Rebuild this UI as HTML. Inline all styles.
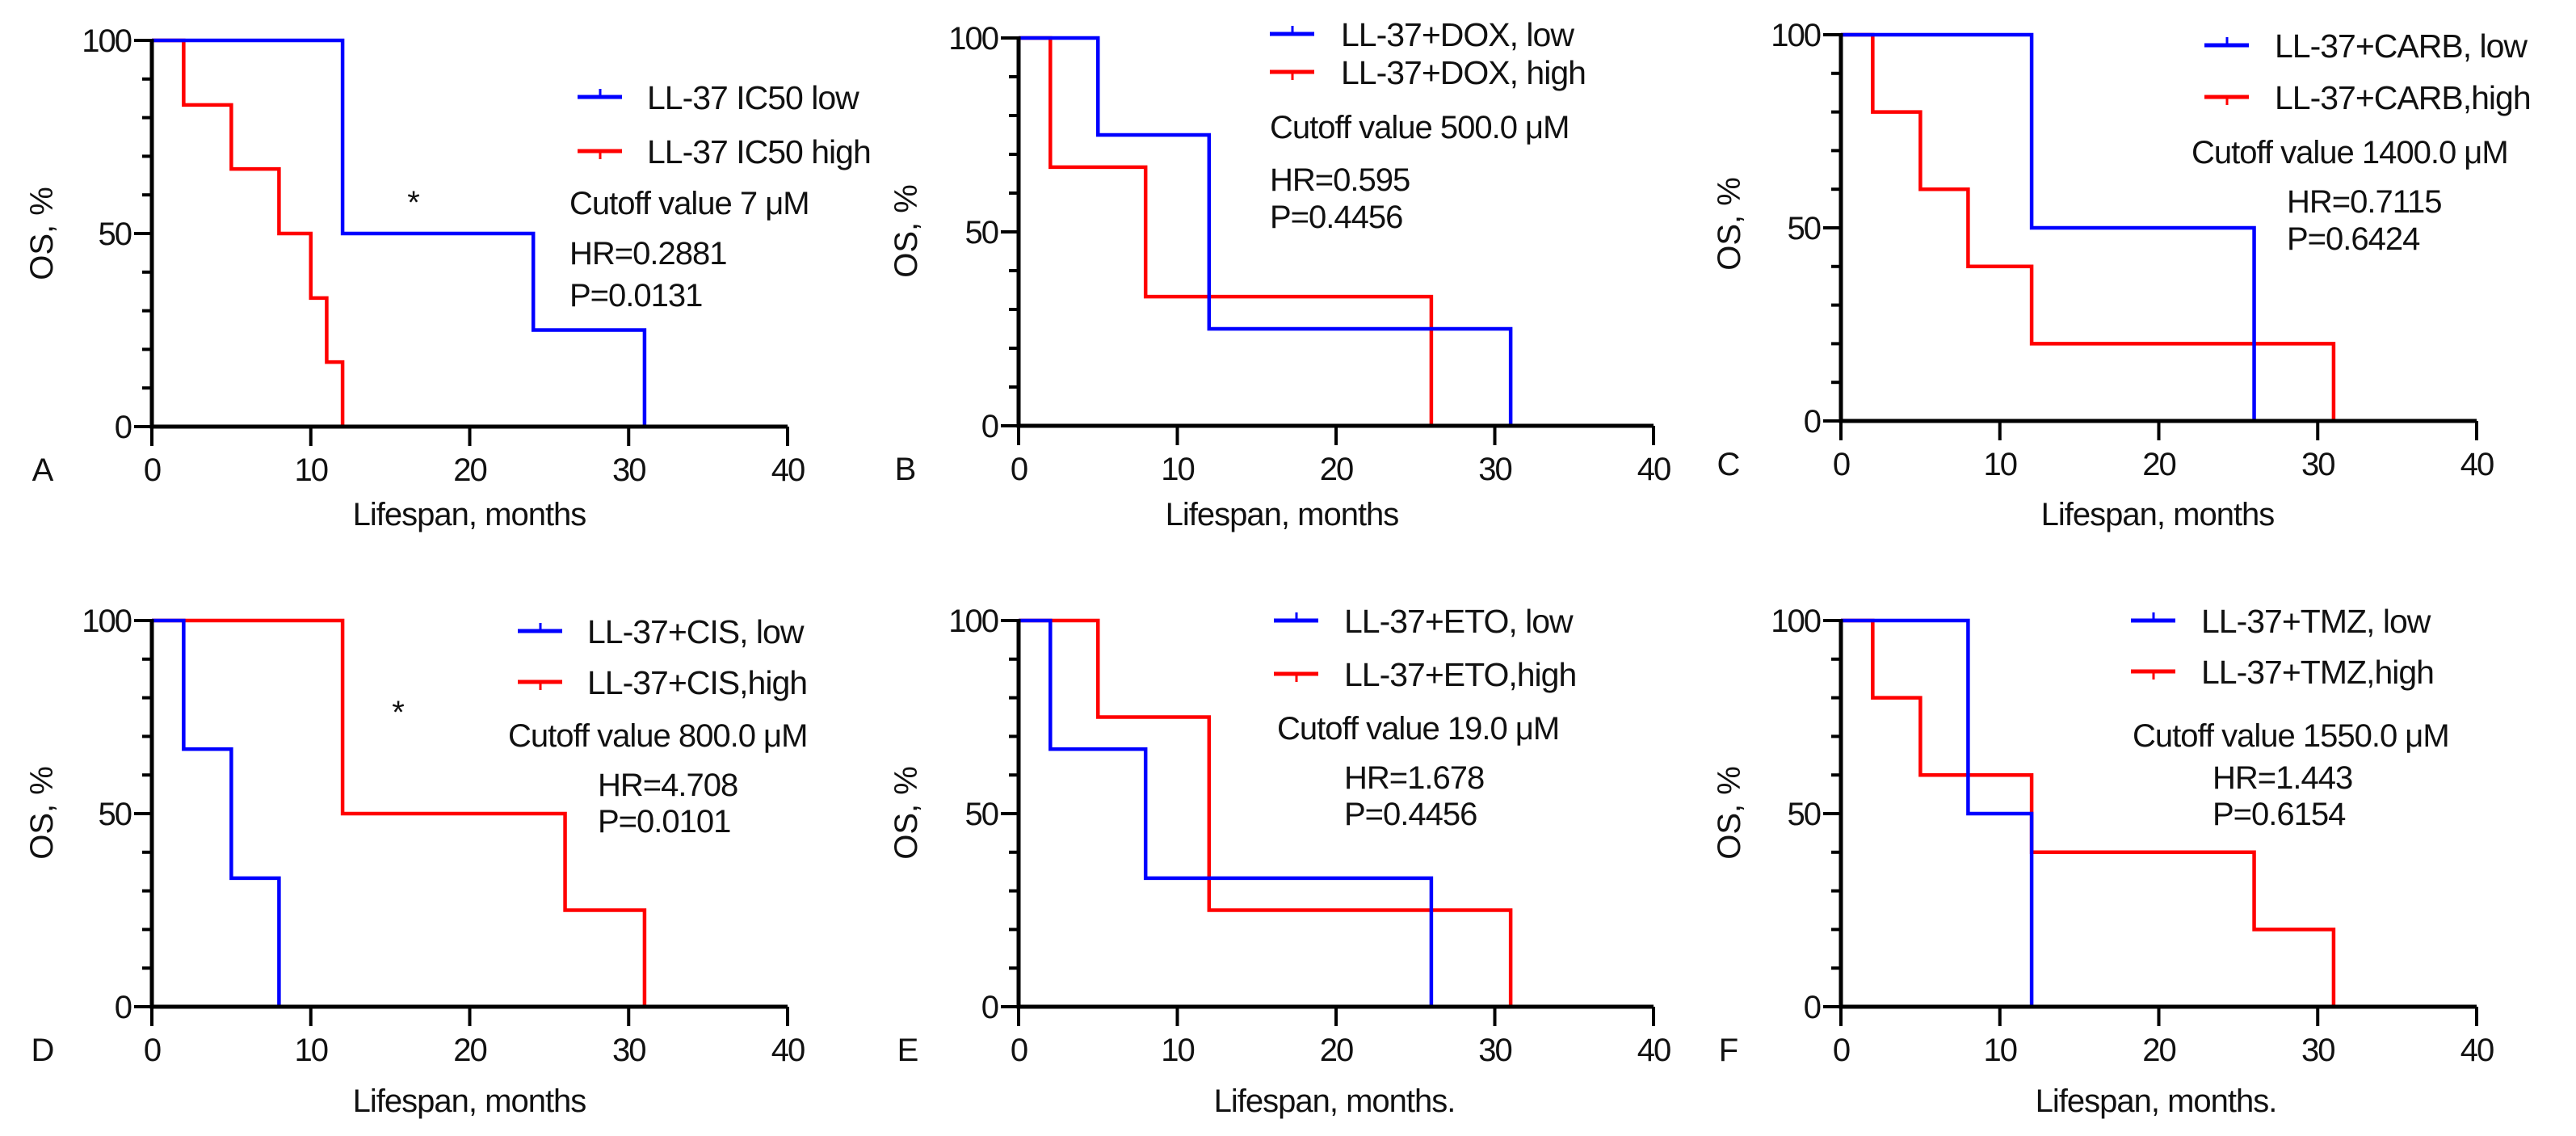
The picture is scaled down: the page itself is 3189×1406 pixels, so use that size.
<!DOCTYPE html>
<html><head><meta charset="utf-8"><style>
html,body{margin:0;padding:0;background:#fff;}
svg{display:block;}
text{font-family:"Liberation Sans",Arial,sans-serif;fill:#111;}
</style></head>
<body>
<svg id="fig" width="3189" height="1406" viewBox="0 0 3189 1406" xmlns="http://www.w3.org/2000/svg"></svg>
<script>
// Panel A
const aLowT=[0,12,24,31]; const aLowS=[100,50,25,0];
const aHighT=[0,2,5,8,10,11,12]; const aHighS=[100,83.3,66.7,50,33.3,16.7,0];
// Panel B
const bLowT=[0,5,12,31]; const bLowS=[100,75,25,0];
const bHighT=[0,2,8,26]; const bHighS=[100,66.7,33.3,0];
// Panel C
const cLowT=[0,12,26]; const cLowS=[100,50,0];
const cHighT=[0,2,5,8,12,31]; const cHighS=[100,80,60,40,20,0];
// Panel D
const dLowT=[0,2,5,8]; const dLowS=[100,66.7,33.3,0];
const dHighT=[0,12,26,31]; const dHighS=[100,50,25,0];
// Panel E
const eLowT=[0,2,8,26]; const eLowS=[100,66.7,33.3,0];
const eHighT=[0,5,12,31]; const eHighS=[100,75,25,0];
// Panel F
const fLowT=[0,8,12]; const fLowS=[100,50,0];
const fHighT=[0,2,5,12,26,31]; const fHighS=[100,80,60,40,20,0];
const xTicks=[0,10,20,30,40];
const yTicks=[0,50,100];

const NS="http://www.w3.org/2000/svg";
const svg=document.getElementById('fig');
function mk(tag,attrs,parent){const e=document.createElementNS(NS,tag);for(const k in attrs)e.setAttribute(k,attrs[k]);(parent||svg).appendChild(e);return e;}
function txt(s,attrs,parent){const e=mk('text',attrs,parent);e.textContent=s;return e;}

const panels=[
 {id:'a',letter:'A',x0:188,x1:975,y0:528,y1:50,lt:aLowT,ls:aLowS,ht:aHighT,hs:aHighS,title:'Lifespan, months',titleX:581,titleY:650,letX:53,yt:51,ytY:289,
  leg:['LL-37 IC50 low','LL-37 IC50 high'],legX:715,legY:[120,187],legTX:801,
  cut:'Cutoff value 7 μM',cutX:705,cutY:250,hrX:705,hr:'HR=0.2881',hrY:312,p:'P=0.0131',pY:364,star:[512,246]},
 {id:'b',letter:'B',x0:1261,x1:2047,y0:527,y1:47,lt:bLowT,ls:bLowS,ht:bHighT,hs:bHighS,title:'Lifespan, months',titleX:1587,titleY:650,letX:1121,yt:1121,ytY:286,
  leg:['LL-37+DOX, low','LL-37+DOX, high'],legX:1572,legY:[42,89],legTX:1660,
  cut:'Cutoff value 500.0 μM',cutX:1572,cutY:156,hrX:1572,hr:'HR=0.595',hrY:221,p:'P=0.4456',pY:267},
 {id:'c',letter:'C',x0:2279,x1:3066,y0:521,y1:43,lt:cLowT,ls:cLowS,ht:cHighT,hs:cHighS,title:'Lifespan, months',titleX:2671,titleY:650,letX:2140,yt:2140,ytY:277,
  leg:['LL-37+CARB, low','LL-37+CARB,high'],legX:2729,legY:[56,120],legTX:2816,
  cut:'Cutoff value 1400.0 μM',cutX:2713,cutY:187,hrX:2831,hr:'HR=0.7115',hrY:248,p:'P=0.6424',pY:294},
 {id:'d',letter:'D',x0:188,x1:975,y0:1246,y1:768,lt:dLowT,ls:dLowS,ht:dHighT,hs:dHighS,title:'Lifespan, months',titleX:581,titleY:1376,letX:53,yt:51,ytY:1006,
  leg:['LL-37+CIS, low','LL-37+CIS,high'],legX:641,legY:[781,844],legTX:727,
  cut:'Cutoff value 800.0 μM',cutX:629,cutY:909,hrX:740,hr:'HR=4.708',hrY:970,p:'P=0.0101',pY:1015,star:[493,877]},
 {id:'e',letter:'E',x0:1261,x1:2047,y0:1246,y1:768,lt:eLowT,ls:eLowS,ht:eHighT,hs:eHighS,title:'Lifespan, months.',titleX:1652,titleY:1376,letX:1124,yt:1121,ytY:1006,
  leg:['LL-37+ETO, low','LL-37+ETO,high'],legX:1577,legY:[768,834],legTX:1664,
  cut:'Cutoff value 19.0 μM',cutX:1581,cutY:900,hrX:1664,hr:'HR=1.678',hrY:961,p:'P=0.4456',pY:1006},
 {id:'f',letter:'F',x0:2279,x1:3066,y0:1246,y1:768,lt:fLowT,ls:fLowS,ht:fHighT,hs:fHighS,title:'Lifespan, months.',titleX:2669,titleY:1376,letX:2140,yt:2140,ytY:1006,
  leg:['LL-37+TMZ, low','LL-37+TMZ,high'],legX:2638,legY:[768,831],legTX:2725,
  cut:'Cutoff value 1550.0 μM',cutX:2640,cutY:909,hrX:2739,hr:'HR=1.443',hrY:961,p:'P=0.6154',pY:1006}
];

panels.forEach(p=>{
  const g=mk('g',{});
  
  
  const xs=v=>p.x0+(p.x1-p.x0)*v/40;
  const ys=v=>p.y0+(p.y1-p.y0)*v/100;
  // curves
  function curve(T,S,color,name){
    let d='M'+xs(T[0])+','+ys(S[0]);
    for(let i=1;i<T.length;i++){d+=' H'+xs(T[i])+' V'+ys(S[i]);}
    const c=mk('path',{d:d,fill:'none',stroke:color,'stroke-width':4.5,'stroke-linejoin':'miter'},g);
    
    
  }
  curve(p.ht,p.hs,'#ff0000','curve-high');
  curve(p.lt,p.ls,'#0000ff','curve-low');
  // axes
  const ax=mk('path',{d:`M${p.x0},${ys(100)-2} V${p.y0} H${p.x1}`,fill:'none',stroke:'#000','stroke-width':5},g);
  
  
  for(let v=0;v<=100;v+=10){
    const len=(v%50===0)?22:12;
    const t=mk('line',{x1:p.x0-len,x2:p.x0,y1:ys(v),y2:ys(v),stroke:'#000','stroke-width':4},g);
    
    
  }
  yTicks.forEach(v=>{
    const t=txt(String(v),{x:p.x0-26,y:ys(v)+14,'text-anchor':'end','font-size':40,'letter-spacing':-2},g);
    
    
  });
  xTicks.forEach(v=>{
    const t=mk('line',{x1:xs(v),x2:xs(v),y1:p.y0,y2:p.y0+24,stroke:'#000','stroke-width':4},g);
    
    
    const l=txt(String(v),{x:xs(v),y:p.y0+67,'text-anchor':'middle','font-size':40,'letter-spacing':-2},g);
    
    
  });
  const xt=txt(p.title,{x:p.titleX,y:p.titleY,'text-anchor':'middle','font-size':40,'letter-spacing':-1},g);
  
  
  const yt=txt('OS, %',{x:0,y:0,'text-anchor':'middle','font-size':40,transform:`translate(${p.yt+14},${p.ytY}) rotate(-90)`},g);
  
  
  const lt=txt(p.letter,{x:p.letX,y:p.y0+67,'text-anchor':'middle','font-size':40},g);
  
  
  // legend
  const cols=['#0000ff','#ff0000'];
  p.leg.forEach((s,i)=>{
    const y=p.legY[i];
    const ln=mk('line',{x1:p.legX,x2:p.legX+55,y1:y,y2:y,stroke:cols[i],'stroke-width':5},g);
    
    
    const tk=mk('line',{x1:p.legX+28,x2:p.legX+28,y1:i===0?y-10:y,y2:i===0?y:y+10,stroke:cols[i],'stroke-width':3},g);
    
    
    const t=txt(s,{x:p.legTX,y:y+15,'font-size':41,'letter-spacing':-1},g);
    
    
  });
  const ct=txt(p.cut,{x:p.cutX,y:p.cutY+15,'font-size':40,'letter-spacing':-1},g);
  
  
  const hr=txt(p.hr,{x:p.hrX,y:p.hrY+15,'font-size':40,'letter-spacing':-1},g);
  
  
  const pv=txt(p.p,{x:p.hrX,y:p.pY+15,'font-size':40,'letter-spacing':-1},g);
  
  
  if(p.star){
    const st=txt('*',{x:p.star[0],y:p.star[1]+18,'text-anchor':'middle','font-size':40},g);
    
    
  }
});
</script>
</body></html>
